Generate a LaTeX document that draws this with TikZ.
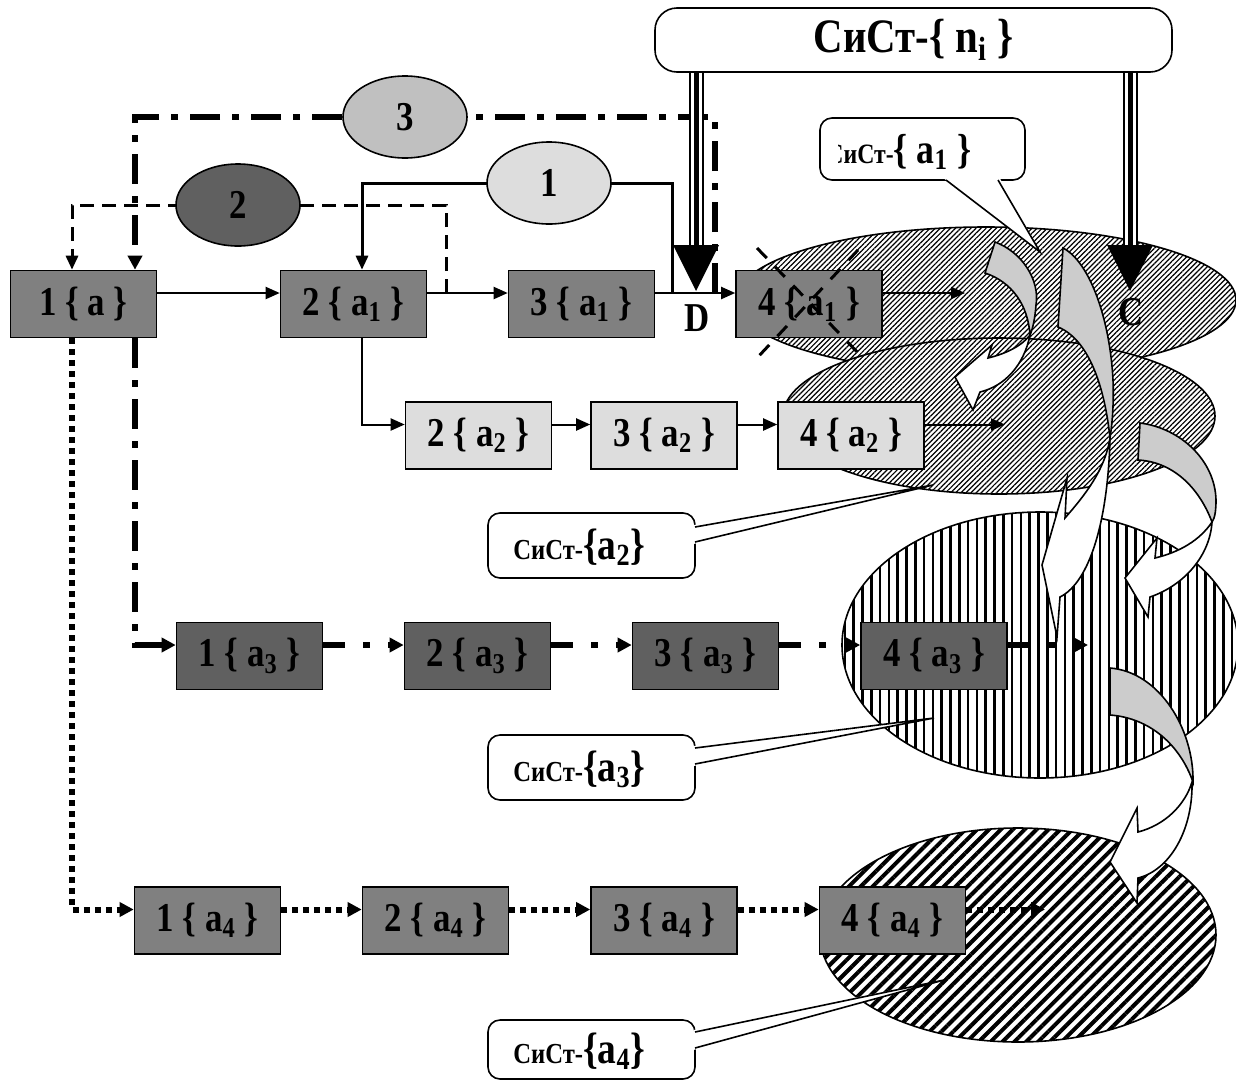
\documentclass[tikz,border=0pt]{standalone}
\usepackage{fontspec}
\setmainfont{Liberation Serif}[FakeStretch=0.85]
\usetikzlibrary{arrows.meta,patterns.meta,shapes.geometric,calc}
\definecolor{gA}{HTML}{808080}
\definecolor{gB}{HTML}{606060}
\definecolor{gC}{HTML}{DDDDDD}
\definecolor{gD}{HTML}{C0C0C0}
\definecolor{gE}{HTML}{CCCCCC}
\newcommand\sbs[1]{\textsubscript{#1}}
\begin{document}
\begin{tikzpicture}[x=0.5pt,y=-0.5pt,
  box/.style={draw=black, line width=0.8pt, minimum width=73pt, minimum height=33.5pt, inner sep=0pt, font=\bfseries\fontsize{20.5}{22}\selectfont},
  lbl/.style={inner sep=0pt, font=\bfseries\fontsize{20.5}{22}\selectfont},
  numell/.style={ellipse, draw=black, line width=0.8pt, minimum width=62pt, minimum height=41pt, inner sep=0pt, font=\bfseries\fontsize{20.5}{22}\selectfont},
  bigell/.style={ellipse, draw=black, line width=0.8pt, inner sep=0pt, preaction={fill=white}},
  tipA/.style={-{Triangle[length=7pt,width=6pt]}},
  con/.style={line width=1pt, tipA},
  solidl/.style={line width=1.5pt, tipA},
  dashl/.style={line width=1.5pt, dash pattern=on 7pt off 4pt, tipA},
  dd3/.style={line width=3pt, dash pattern=on 15pt off 6pt on 3.5pt off 6pt, -{Triangle[length=7pt,width=7pt]}},
  ddr/.style={line width=3pt, dash pattern=on 11pt off 9pt on 3.5pt off 9pt, -{Triangle[length=7pt,width=7pt]}},
  dtr/.style={line width=3pt, dash pattern=on 3pt off 2.5pt, -{Triangle[length=7pt,width=7pt]}},
  triple/.style={line width=7.5pt, draw=black, postaction={draw=white, line width=5.5pt}, postaction={draw=black, line width=2.5pt}},
  callout/.style={draw=black, line width=0.8pt, fill=white, rounded corners=6pt},
  tailfill/.style={fill=white},
  tailline/.style={line width=0.8pt, line join=miter},
  arrw/.style={draw=black, line width=0.8pt, fill=white, line join=miter},
  arrg/.style={draw=black, line width=0.8pt, fill=gE, line join=miter},
  xdash/.style={line width=1.5pt, dash pattern=on 7pt off 6pt},
  ctxt/.style={anchor=west, inner sep=0pt, font=\bfseries}
]
\fill[white] (0,0) rectangle (1236,1082);
\useasboundingbox (0,0) rectangle (1236,1082);

% large patterned ellipses
\node[bigell, minimum width=250pt, minimum height=73pt, pattern={Lines[angle=45,distance=1.8pt,line width=0.6pt]}] (E1) at (986,300) {};
\node[bigell, minimum width=216pt, minimum height=78pt, pattern={Lines[angle=45,distance=1.8pt,line width=0.6pt]}] (E2) at (999,416) {};
\node[bigell, minimum width=198pt, minimum height=133pt, pattern={Lines[angle=90,distance=4.4pt,line width=1.3pt]}] (E3) at (1040,645) {};
\node[bigell, minimum width=198pt, minimum height=107pt, pattern={Lines[angle=45,distance=4.2pt,line width=2pt]}] (E4) at (1018,935) {};

% curved block arrows
\draw[arrw] (1030,335) .. controls (1024,365) and (1005,386) .. (980,392) -- (973,410) -- (955,377) -- (992,345) -- (988,358) .. controls (1005,354) and (1022,346) .. (1030,335) -- cycle;
\draw[arrg] (995,242) .. controls (1022,252) and (1040,280) .. (1036,305) .. controls (1035,318) and (1033,328) .. (1030,335) .. controls (1028,305) and (1012,282) .. (985,273) -- cycle;

\draw[arrw] (1110,438) .. controls (1108,520) and (1090,582) .. (1060,597) -- (1057,637) -- (1042,565) -- (1067,478) -- (1065,518) .. controls (1085,495) and (1105,470) .. (1110,438) -- cycle;
\draw[arrg] (1063,248) .. controls (1090,262) and (1110,320) .. (1113,380) .. controls (1114,405) and (1112,425) .. (1110,438) .. controls (1105,390) and (1090,340) .. (1058,327) -- cycle;

\draw[arrw] (1212,522) .. controls (1210,555) and (1185,585) .. (1150,597) -- (1148,617) -- (1125,578) -- (1157,538) -- (1155,558) .. controls (1180,552) and (1200,540) .. (1212,522) -- cycle;
\draw[arrg] (1140,423) .. controls (1180,428) and (1215,460) .. (1216,500) .. controls (1216,510) and (1215,518) .. (1212,522) .. controls (1200,490) and (1175,462) .. (1138,460) -- cycle;

\draw[arrw] (1192,782) .. controls (1193,830) and (1170,870) .. (1138,878) -- (1137,903) -- (1110,862) -- (1137,808) -- (1138,832) .. controls (1165,825) and (1185,805) .. (1192,782) -- cycle;
\draw[arrg] (1110,668) .. controls (1160,672) and (1194,730) .. (1193,782) .. controls (1180,745) and (1150,718) .. (1110,715) -- cycle;

% boxes
\node[box, fill=gA] (b11) at (83.5,304) {1 \{ a \}};
\node[box, fill=gA] (b12) at (353.5,304) {2 \{ a\sbs{1} \}};
\node[box, fill=gA] (b13) at (581.5,304) {3 \{ a\sbs{1} \}};
\node[box, fill=gA] (b14) at (809,304) {4 \{ a\sbs{1} \}};
\node[box, fill=gC] (b22) at (478.5,435.5) {2 \{ a\sbs{2} \}};
\node[box, fill=gC] (b23) at (664,435.5) {3 \{ a\sbs{2} \}};
\node[box, fill=gC] (b24) at (851,435.5) {4 \{ a\sbs{2} \}};
\node[box, fill=gB] (b31) at (249.5,656) {1 \{ a\sbs{3} \}};
\node[box, fill=gB] (b32) at (477.5,656) {2 \{ a\sbs{3} \}};
\node[box, fill=gB] (b33) at (705.5,656) {3 \{ a\sbs{3} \}};
\node[box, fill=gB] (b34) at (934,656) {4 \{ a\sbs{3} \}};
\node[box, fill=gA] (b41) at (207.5,920.5) {1 \{ a\sbs{4} \}};
\node[box, fill=gA] (b42) at (435.5,920.5) {2 \{ a\sbs{4} \}};
\node[box, fill=gA] (b43) at (664,920.5) {3 \{ a\sbs{4} \}};
\node[box, fill=gA] (b44) at (892.5,920.5) {4 \{ a\sbs{4} \}};

% dashed cross over 4{a1}
\draw[xdash] (757,248) -- (862,357);
\draw[xdash] (858,250) -- (757,358);

% free ends
\coordinate (f1) at (965,293);
\coordinate (f2) at (1005,424.5);
\coordinate (f3) at (1088,645);
\coordinate (f4) at (1045,909.5);

% row connectors
\draw[con] ([yshift=5.5pt]b11.east) -- ([yshift=5.5pt]b12.west);
\draw[con] ([yshift=5.5pt]b12.east) -- ([yshift=5.5pt]b13.west);
\draw[con] ([yshift=5.5pt]b13.east) -- ([yshift=5.5pt]b14.west);
\draw[con] ([yshift=5.5pt]b14.east) -- (f1);
\draw[con] ([xshift=4.25pt]b12.south) |- ([yshift=5.5pt]b22.west);
\draw[con] ([yshift=5.5pt]b22.east) -- ([yshift=5.5pt]b23.west);
\draw[con] ([yshift=5.5pt]b23.east) -- ([yshift=5.5pt]b24.west);
\draw[con] ([yshift=5.5pt]b24.east) -- (f2);
\draw[dd3] ([xshift=25.75pt]b11.south) |- ([yshift=5.5pt]b31.west);
\draw[ddr] ([yshift=5.5pt]b31.east) -- ([yshift=5.5pt]b32.west);
\draw[ddr] ([yshift=5.5pt]b32.east) -- ([yshift=5.5pt]b33.west);
\draw[ddr] ([yshift=5.5pt]b33.east) -- ([yshift=5.5pt]b34.west);
\draw[ddr] ([yshift=5.5pt]b34.east) -- (f3);
\draw[dtr] ([xshift=-5.75pt]b11.south) |- ([yshift=5.5pt]b41.west);
\draw[dtr] ([yshift=5.5pt]b41.east) -- ([yshift=5.5pt]b42.west);
\draw[dtr] ([yshift=5.5pt]b42.east) -- ([yshift=5.5pt]b43.west);
\draw[dtr] ([yshift=5.5pt]b43.east) -- ([yshift=5.5pt]b44.west);
\draw[dtr] ([yshift=5.5pt]b44.east) -- (f4);

% feedback loops with numbered ellipses
\coordinate (c1) at (549,183);
\coordinate (c2) at (238,205);
\coordinate (c3) at (405,117);
\coordinate (j1) at (672,293);
\coordinate (j2) at (446,293);
\coordinate (j3) at (715,293);
\draw[dd3] (j3) -- (j3 |- c3) -- ([xshift=25.75pt]b11.north |- c3) -- ([xshift=25.75pt]b11.north);
\draw[dashl] (j2) -- (j2 |- c2) -- ([xshift=-5.75pt]b11.north |- c2) -- ([xshift=-5.75pt]b11.north);
\draw[solidl] (j1) -- (j1 |- c1) -- ([xshift=4.25pt]b12.north |- c1) -- ([xshift=4.25pt]b12.north);
\node[numell, fill=gD] (e3) at (c3) {3};
\node[numell, fill=gB] (e2) at (c2) {2};
\node[numell, fill=gC] (e1) at (c1) {1};

% top callout and its triple lines
\node[draw=black, line width=0.8pt, rounded corners=11pt, fill=white, minimum width=258.5pt, minimum height=32pt, inner sep=0pt, font=\bfseries\fontsize{24}{26}\selectfont] (top) at (913.5,40) {СиСт-\{ n\sbs{i} \}};
\coordinate (Dt) at (696,291);
\coordinate (Ct) at (1130,291);
\draw[triple] (top.south -| Dt) -- (696,247);
\draw[triple] (top.south -| Ct) -- (1130,247);
\fill[black] (673,245) -- (719,245) -- (Dt) -- cycle;
\fill[black] (1107,245) -- (1153,245) -- (Ct) -- cycle;
\node[lbl] (Dl) at (697,318) {D};
\node[lbl] (Cl) at (1131,312) {C};

% callout a1
\draw[callout] (820,118) rectangle (1025,180);
\fill[tailfill] (944,178.5) -- (1040,252) -- (1000,178.5) -- cycle;
\draw[tailline] (946,180) -- (1040,252) -- (998,180);
\begin{scope}
\clip (838,120) rectangle (1023,178);
\node[ctxt] (t1) at (826,152) {\fontsize{14}{16}\selectfont СиСт-\fontsize{21}{24}\selectfont\{ a\sbs{1} \}};
\end{scope}

% callout a2
\draw[callout] (488,513) rectangle (695,578);
\fill[tailfill] (693.5,525) -- (933,485) -- (693.5,544) -- cycle;
\draw[tailline] (695,527) -- (933,485) -- (695,542);
\node[ctxt] (t2) at (513,547) {\fontsize{14.5}{16}\selectfont СиСт-\fontsize{22}{24}\selectfont\{a\sbs{2}\}};

% callout a3
\draw[callout] (488,735) rectangle (695,800);
\fill[tailfill] (693.5,746) -- (934,718) -- (693.5,766) -- cycle;
\draw[tailline] (695,748) -- (934,718) -- (695,764);
\node[ctxt] (t3) at (513,769) {\fontsize{14.5}{16}\selectfont СиСт-\fontsize{22}{24}\selectfont\{a\sbs{3}\}};

% callout a4
\draw[callout] (488,1020) rectangle (695,1079);
\fill[tailfill] (693.5,1030) -- (944,980) -- (693.5,1050) -- cycle;
\draw[tailline] (695,1032) -- (944,980) -- (695,1048);
\node[ctxt] (t4) at (513,1051) {\fontsize{14.5}{16}\selectfont СиСт-\fontsize{22}{24}\selectfont\{a\sbs{4}\}};
\end{tikzpicture}
\end{document}
